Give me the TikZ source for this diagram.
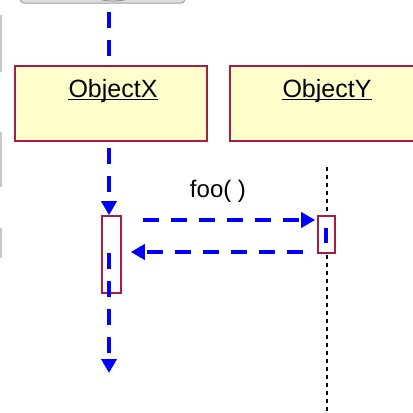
\documentclass[tikz,border=0pt]{standalone}
\usepackage{fontspec}
\setmainfont{Liberation Sans}
\usetikzlibrary{arrows.meta}
\definecolor{msgblue}{RGB}{0,0,255}
\definecolor{boxred}{RGB}{168,28,72}
\definecolor{boxfill}{RGB}{255,255,204}
\definecolor{artgray}{RGB}{200,200,200}
\tikzset{
  objbox/.style={draw=boxred, line width=2pt, fill=boxfill, inner sep=0pt},
  actbox/.style={draw=boxred, line width=1.6pt, fill=white, inner sep=0pt},
  msg/.style={draw=msgblue, line width=3.6pt, dash pattern=on 16pt off 12pt,
    -{Triangle[length=14pt,width=15pt]}},
  plainmsg/.style={draw=msgblue, line width=3.6pt, dash pattern=on 16pt off 12pt},
  lifeline/.style={draw=black, line width=1.8pt, dash pattern=on 4pt off 4pt},
  lbl/.style={inner sep=0pt, font=\fontsize{25}{28}\selectfont},
  msglbl/.style={inner sep=0pt, font=\fontsize{24}{28}\selectfont},
  artifact/.style={draw=artgray, line width=1.5pt}
}
\begin{document}
\begin{tikzpicture}[x=1pt,y=-1pt]
\useasboundingbox[fill=white] (0,0) rectangle (413,413);
% screenshot artifacts
\filldraw[fill=artgray!60, draw=artgray!80!black, line width=1pt, rounded corners=4pt] (20,-12) rectangle (185,3);
\draw[draw=artgray!70!black, line width=0.8pt] (97,-3) arc[start angle=180, end angle=360, x radius=16pt, y radius=4pt];
\draw[artifact] (0.8,15) -- (0.8,72);
\draw[artifact] (0.8,132) -- (0.8,187);
\draw[artifact] (0.8,228) -- (0.8,258);

% lifelines and coordinates
\coordinate (topX) at (109,12);
\coordinate (aboveX) at (109,66);
\coordinate (belowX) at (109,148);
\coordinate (inX) at (109,253);
\coordinate (endX) at (109,373);
\coordinate (topY) at (327,167);
\coordinate (endY) at (327,413);
\coordinate (inYa) at (326,228);
\coordinate (inYb) at (326,243);
\coordinate (fwdstart) at (143,220);
\coordinate (retstart) at (303,252);

\draw[plainmsg] (topX) -- (aboveX);
\draw[lifeline] (topY) -- (endY);

% object boxes
\node[objbox, minimum width=192pt, minimum height=75pt] (objX) at (111,103.5) {};
\node[objbox, minimum width=192pt, minimum height=75pt] (objY) at (326,103.5) {};
\node[lbl, anchor=base] (nameX) at (113,97) {ObjectX};
\node[lbl, anchor=base] (nameY) at (327,97) {ObjectY};
\draw[line width=1.6pt] ([yshift=-2.5pt]nameX.base west) -- ([yshift=-2.5pt]nameX.base east);
\draw[line width=1.6pt] ([yshift=-2.5pt]nameY.base west) -- ([yshift=-2.5pt]nameY.base east);

% activations
\node[actbox, minimum width=19pt, minimum height=77pt] (actX) at (111.5,254.5) {};
\node[actbox, minimum width=17pt, minimum height=37pt] (actY) at (326.5,234.5) {};

% connectors
\draw[msg] (belowX) -- (belowX |- actX.north);
\draw[msg] (inX) -- (endX);
\draw[plainmsg] (inYa) -- (inYb);
\draw[msg, shorten >=2pt] (fwdstart) -- (fwdstart -| actY.west);
\draw[msg, shorten >=9pt] (retstart) -- (retstart -| actX.east);

\node[msglbl, anchor=base] (foo) at (218,197) {foo( )};
\end{tikzpicture}
\end{document}
